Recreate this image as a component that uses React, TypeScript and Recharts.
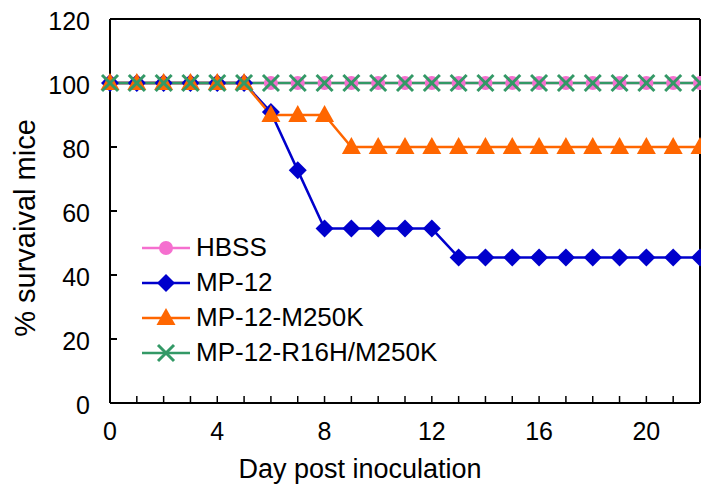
import React from 'react';
import { LineChart, Line, XAxis, YAxis, Legend, ReferenceLine, Label } from 'recharts';

const days = [0, 1, 2, 3, 4, 5, 6, 7, 8, 9, 10, 11, 12, 13, 14, 15, 16, 17, 18, 19, 20, 21, 22];
const hbss = [100, 100, 100, 100, 100, 100, 100, 100, 100, 100, 100, 100, 100, 100, 100, 100, 100, 100, 100, 100, 100, 100, 100];
const mp12 = [100, 100, 100, 100, 100, 100, 90.9, 72.7, 54.5, 54.5, 54.5, 54.5, 54.5, 45.5, 45.5, 45.5, 45.5, 45.5, 45.5, 45.5, 45.5, 45.5, 45.5];
const mp12M250K = [100, 100, 100, 100, 100, 100, 90, 90, 90, 80, 80, 80, 80, 80, 80, 80, 80, 80, 80, 80, 80, 80, 80];
const mp12R16H = [100, 100, 100, 100, 100, 100, 100, 100, 100, 100, 100, 100, 100, 100, 100, 100, 100, 100, 100, 100, 100, 100, 100];

const yTicks = [0, 20, 40, 60, 80, 100, 120];
const xLabelTicks = [0, 4, 8, 12, 16, 20];

const series = [
  { key: 'hbss', name: 'HBSS', color: '#f56fcf', shape: 'circle' },
  { key: 'mp12', name: 'MP-12', color: '#0000cc', shape: 'diamond' },
  { key: 'm250k', name: 'MP-12-M250K', color: '#ff6600', shape: 'triangle' },
  { key: 'r16h', name: 'MP-12-R16H/M250K', color: '#339966', shape: 'cross' },
];

const data = days.map((d, i) => ({
  day: d,
  hbss: hbss[i],
  mp12: mp12[i],
  m250k: mp12M250K[i],
  r16h: mp12R16H[i],
}));

const font = '"Liberation Sans", Arial, sans-serif';

function marker(shape: string, color: string, cx: number, cy: number, key?: any) {
  if (shape === 'circle') return <circle key={key} cx={cx} cy={cy} r={7} fill={color} />;
  if (shape === 'diamond')
    return <polygon key={key} points={`${cx},${cy - 9} ${cx + 9},${cy} ${cx},${cy + 9} ${cx - 9},${cy}`} fill={color} />;
  if (shape === 'triangle')
    return <polygon key={key} points={`${cx},${cy - 10} ${cx + 9.5},${cy + 7} ${cx - 9.5},${cy + 7}`} fill={color} />;
  return (
    <g key={key}>
      <line x1={cx - 8} y1={cy - 8} x2={cx + 8} y2={cy + 8} stroke={color} strokeWidth={3} />
      <line x1={cx - 8} y1={cy + 8} x2={cx + 8} y2={cy - 8} stroke={color} strokeWidth={3} />
    </g>
  );
}

// tick labels placed from the scale coordinate of each tick
const YTick = ({ payload }: any) => (
  <text x={90} y={payload.coordinate + 11} textAnchor="end" fontSize={25} fontFamily={font} fill="#000">
    {payload.value}
  </text>
);

const XTick = ({ payload }: any) =>
  xLabelTicks.includes(payload.value) ? (
    <text x={payload.coordinate} y={440} textAnchor="middle" fontSize={25} fontFamily={font} fill="#000">
      {payload.value}
    </text>
  ) : (
    <g />
  );

const LegendBox = () => (
  <div style={{ fontFamily: font, fontSize: 26, color: '#000' }}>
    {series.map((s) => (
      <div key={s.key} style={{ display: 'flex', alignItems: 'center', height: 35 }}>
        <svg width={52} height={24} style={{ marginRight: 4 }}>
          <line x1={2} y1={12} x2={50} y2={12} stroke={s.color} strokeWidth={2.5} />
          {marker(s.shape, s.color, 26, 12)}
        </svg>
        <span style={{ whiteSpace: 'nowrap' }}>{s.name}</span>
      </div>
    ))}
  </div>
);

export default function App() {
  return (
    <div style={{ position: 'absolute', left: 0, top: 0, background: '#fff' }}>
      <LineChart width={701} height={490} data={data} margin={{ top: 19, right: 1, bottom: 0, left: 0 }}>
        <XAxis
          dataKey="day"
          type="number"
          domain={[0, 22]}
          ticks={days}
          interval={0}
          height={87}
          tickSize={-7}
          axisLine={{ stroke: '#000', strokeWidth: 2 }}
          tickLine={{ stroke: '#000', strokeWidth: 1.5 }}
          tick={<XTick />}
        >
          <Label
            content={({ viewBox }: any) => (
              <text x={viewBox.x + viewBox.width / 2 - 45} y={viewBox.y + 75} textAnchor="middle" fontSize={27} fontFamily={font} fill="#000">
                Day post inoculation
              </text>
            )}
          />
        </XAxis>
        <YAxis
          type="number"
          domain={[0, 120]}
          ticks={yTicks}
          interval={0}
          width={110}
          tickSize={-7}
          axisLine={{ stroke: '#000', strokeWidth: 2 }}
          tickLine={{ stroke: '#000', strokeWidth: 2 }}
          tick={<YTick />}
        >
          <Label
            content={({ viewBox }: any) => {
              const x = viewBox.x + 25;
              const y = viewBox.y + viewBox.height / 2 + 17;
              return (
                <text x={x} y={y} transform={`rotate(-90 ${x} ${y})`} textAnchor="middle" dominantBaseline="central" fontSize={29} fontFamily={font} fill="#000">
                  % survaival mice
                </text>
              );
            }}
          />
        </YAxis>
        <ReferenceLine y={120} stroke="#000" strokeWidth={2} />
        <ReferenceLine x={22} stroke="#000" strokeWidth={2} />
        <Legend
          layout="vertical"
          align="center"
          verticalAlign="middle"
          wrapperStyle={{ left: 140, top: 230, width: 'auto' }}
          content={() => <LegendBox />}
        />
        {series.map((s) => (
          <Line
            key={s.key}
            dataKey={s.key}
            name={s.name}
            stroke={s.color}
            strokeWidth={2.5}
            isAnimationActive={false}
            dot={(p: any) => marker(s.shape, s.color, p.cx, p.cy, `${s.key}-${p.index}`)}
          />
        ))}
      </LineChart>
    </div>
  );
}
